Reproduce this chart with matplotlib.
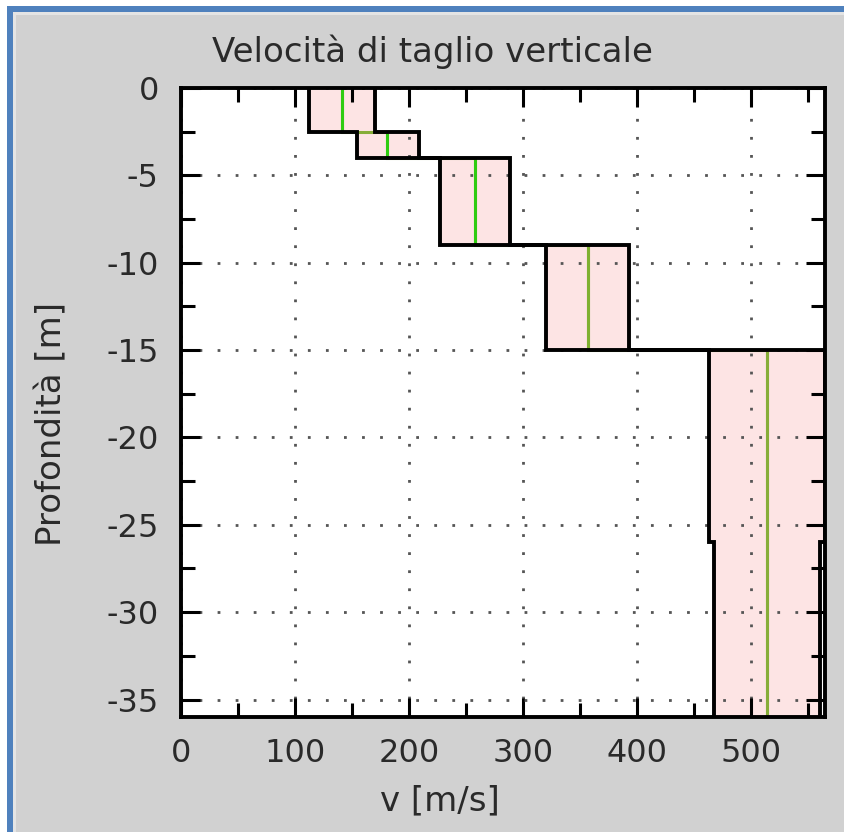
import matplotlib
matplotlib.use('Agg')
import matplotlib.pyplot as plt
from matplotlib.patches import Rectangle
from matplotlib.ticker import MultipleLocator, FixedLocator

# ---- data ----
depth_top = [0, 2.5, 4, 9, 15, 26]
depth_bot = [2.5, 4, 9, 15, 26, 36]
v_min = [112, 154, 227, 320, 463, 468]
v_max = [170, 209, 289, 393, 565, 561]
v_mean = [141, 181, 258, 357, 514, 514]
x_ticks = [0, 100, 200, 300, 400, 500]
y_ticks = [0, -5, -10, -15, -20, -25, -30, -35]

title = "Velocità di taglio verticale"
xlabel = "v [m/s]"
ylabel = "Profondità [m]"

plt.rcParams['font.family'] = ['DejaVu Sans']
plt.rcParams['axes.unicode_minus'] = False

W, H = 845, 832
fig = plt.figure(figsize=(W / 100, H / 100), dpi=100, facecolor='white')

def fx(px):
    return px / W

def fy(py):
    return 1 - py / H

# frame: blue border, light inner line, gray panel
fig.patches.append(Rectangle((fx(7), 0), 1 - fx(7), fy(6), transform=fig.transFigure,
                             facecolor='#4f81bd', edgecolor='none', zorder=-3))
fig.patches.append(Rectangle((fx(13), 0), 1 - fx(13), fy(12), transform=fig.transFigure,
                             facecolor='#e4e4e4', edgecolor='none', zorder=-2))
fig.patches.append(Rectangle((fx(16), 0), 1 - fx(16), fy(15), transform=fig.transFigure,
                             facecolor='#d1d1d1', edgecolor='none', zorder=-1))

ax_l, ax_r, ax_t, ax_b = 181, 825, 88, 717
ax = fig.add_axes([fx(ax_l), fy(ax_b), (ax_r - ax_l) / W, (ax_b - ax_t) / H])
ax.set_facecolor('white')
ax.set_xlim(0, 565)
ax.set_ylim(-36, 0)

# fill between min and max per layer
for t, b, lo, hi in zip(depth_top, depth_bot, v_min, v_max):
    ax.fill_betweenx([-t, -b], lo, hi, color='#fde4e4', linewidth=0, zorder=1)

def step_xy(vals):
    xs, ys = [], []
    for v, t, b in zip(vals, depth_top, depth_bot):
        xs += [v, v]
        ys += [-t, -b]
    return xs, ys

# mean profile (green)
mx, my = step_xy(v_mean)
ax.plot(mx, my, color='#86ad38', lw=2.2, zorder=2, solid_joinstyle='miter', solid_capstyle='butt')
layer_green = ['#2ecc10', '#2ecc10', '#2ecc10', '#7fb030', '#86ad38', '#86ad38']
for v, t, b, c in zip(v_mean, depth_top, depth_bot, layer_green):
    ax.plot([v, v], [-t, -b], color=c, lw=2.2, zorder=2.1, solid_capstyle='butt')

# min / max profiles (black)
for vals in (v_min, v_max):
    sx, sy = step_xy(vals)
    ax.plot(sx, sy, color='black', lw=2.8, zorder=3, solid_joinstyle='miter', solid_capstyle='butt')

# axes styling
ax.xaxis.set_major_locator(FixedLocator(x_ticks))
ax.yaxis.set_major_locator(FixedLocator(y_ticks))
ax.xaxis.set_minor_locator(MultipleLocator(50))
ax.yaxis.set_minor_locator(MultipleLocator(2.5))
ax.set_xticklabels([str(v) for v in x_ticks])
ax.set_yticklabels([str(v) for v in y_ticks])
ax.tick_params(which='both', direction='in', top=True, right=True, colors='black',
               labelcolor='#2a2a2a', labelsize=23)
ax.tick_params(which='major', length=14, width=2.2)
ax.tick_params(which='minor', length=10, width=2.2)
ax.tick_params(axis='x', which='major', pad=15)
ax.tick_params(axis='y', which='major', pad=16)
for s in ax.spines.values():
    s.set_linewidth(2.8)
    s.set_color('black')
    s.set_zorder(4)
ax.set_axisbelow('line')
ax.grid(True, which='major', color='#555555', lw=2, linestyle=(0, (1, 5.5)))

fig.text(fx(432), fy(52), title, ha='center', va='center', fontsize=24.5, color='#2a2a2a')
fig.text(fx(440), fy(801), xlabel, ha='center', va='center', fontsize=24.5, color='#2a2a2a')
fig.text(fx(52), fy(424), ylabel, ha='center', va='center', fontsize=24.5, color='#2a2a2a',
         rotation=90)

fig.savefig('out.png', dpi=100, facecolor=fig.get_facecolor())
